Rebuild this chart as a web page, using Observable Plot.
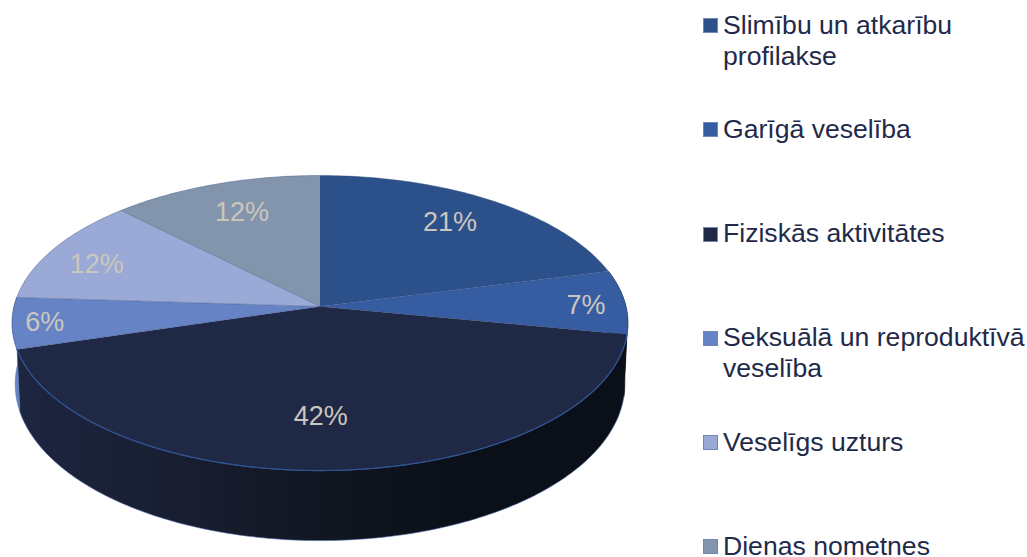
<!DOCTYPE html>
<html lang="lv">
<head>
<meta charset="utf-8">
<script src="https://cdn.jsdelivr.net/npm/d3@7"></script>
<script src="https://cdn.jsdelivr.net/npm/@observablehq/plot@0.6"></script>
<style>
html,body{margin:0;padding:0;background:#fff;width:1027px;height:557px;overflow:hidden}
#page{display:flex;width:1027px;height:557px}
#legend{position:relative;flex:none;width:337px;padding-top:9.5px;box-sizing:border-box;font-family:"Liberation Sans",Arial,sans-serif;font-size:26.6px;line-height:31px;color:#1f2a4a}
.item{height:104.3px;display:flex;align-items:flex-start}
.swatch{flex:none;width:13px;height:13px;margin:8.5px 5px 0 13px;border:1px solid #6f86b8}
.name{width:305px}
</style>
</head>
<body>
<div id="page"><div id="chart"></div><div id="legend"></div></div>
<script>
const categories = ["Slimību un atkarību profilakse","Garīgā veselība","Fiziskās aktivitātes","Seksuālā un reproduktīvā veselība","Veselīgs uzturs","Dienas nometnes"];
const shares = [21, 7, 42.4, 5.6, 11.6, 12.4];
const colors = ["#2c5089","#365da2","#1f2845","#6683c6","#9aa9d5","#8295ad"];
const labelRadius = [0.765, 0.87, 0.695, 0.895, 0.81, 0.75];
const labelTurn = [-1.4, 1.3, 2.7, -0.4, -3, 0.8];

const perspective = 0.112;
const project = (turn, r = 1) => {
  const a = turn * 2 * Math.PI, X = r * Math.sin(a), Y = -r * Math.cos(a);
  const s = 1 / (1 - perspective * Y);
  return {X, Y, x: X * s, y: Y * s};
};
const depthBase = 60 / 145.7, depthFront = 10 / 145.7, bottomScale = 0.99;

let cum = 0;
const slices = categories.map((name, i) => {
  const start = cum / 100; cum += shares[i];
  return {name, start, end: cum / 100, mid: (start + cum / 100) / 2, pct: Math.round(shares[i]), i};
});
const arc = (s) => d3.range(0, 1.0001, 1 / Math.max(4, Math.ceil((s.end - s.start) * 360)))
  .map(t => project(s.start + t * (s.end - s.start)));

const topFace = slices.flatMap(s => [{x: 0, y: 0, name: s.name}, ...arc(s).map(p => ({x: p.x, y: p.y, name: s.name}))]);
const side = s => {
  const a = arc(s);
  const lower = a.map(p => ({x: p.x * bottomScale, y: p.y + depthBase + depthFront * p.Y, name: s.name})).reverse();
  return [...a.map(p => ({x: p.x, y: p.y, name: s.name})), ...lower];
};
const rim = arc(slices[2]).map(p => ({x: p.x, y: p.y}));
const labels = slices.map((s, i) => {
  const p = project(s.mid + labelTurn[i] / 360, labelRadius[i]);
  return {x: p.x, y: p.y, text: s.pct + "%"};
});

const plot = Plot.plot({
  width: 690, height: 557, margin: 0,
  x: {domain: [-1, 1], range: [13.5, 625.5], axis: null},
  y: {domain: [-1, 1], range: [160.3, 451.7], axis: null},
  color: {domain: categories, range: colors},
  marks: [
    Plot.line(side(slices[3]), {x: "x", y: "y", fill: "name", stroke: "#5a78bb", strokeWidth: 0.5}),
    Plot.line(side(slices[1]), {x: "x", y: "y", fill: "#0b0f18", stroke: "#0b0f18", strokeWidth: 0.5}),
    Plot.line(side(slices[2]), {x: "x", y: "y", fill: "url(#sideShade)", stroke: "#4a6aa8", strokeWidth: 0.6}),
    Plot.line(topFace, {x: "x", y: "y", z: "name", fill: "name", stroke: "#3a4f7c", strokeWidth: 0.6, strokeOpacity: 0.7}),
    Plot.line(rim, {x: "x", y: "y", stroke: "#2f5597", strokeWidth: 1.2}),
    Plot.text(labels, {x: "x", y: "y", text: "text", fill: "#cbc6bd", fontSize: 27, fontFamily: "Liberation Sans, Arial, sans-serif"})
  ]
});
const defs = d3.select(plot).append("defs").append("linearGradient").attr("id", "sideShade");
[[0, "#1d2540"], [0.28, "#181e30"], [0.55, "#10141f"], [0.75, "#0b0f18"], [1, "#0b0f18"]]
  .forEach(([o, c]) => defs.append("stop").attr("offset", o).attr("stop-color", c));
plot.style.display = "block";
document.getElementById("chart").appendChild(plot);

d3.select("#legend").selectAll(".item").data(slices).join("div").attr("class", "item")
  .call(g => g.append("div").attr("class", "swatch").style("background", d => colors[d.i]))
  .call(g => g.append("div").attr("class", "name").text(d => d.name));
</script>
</body>
</html>
